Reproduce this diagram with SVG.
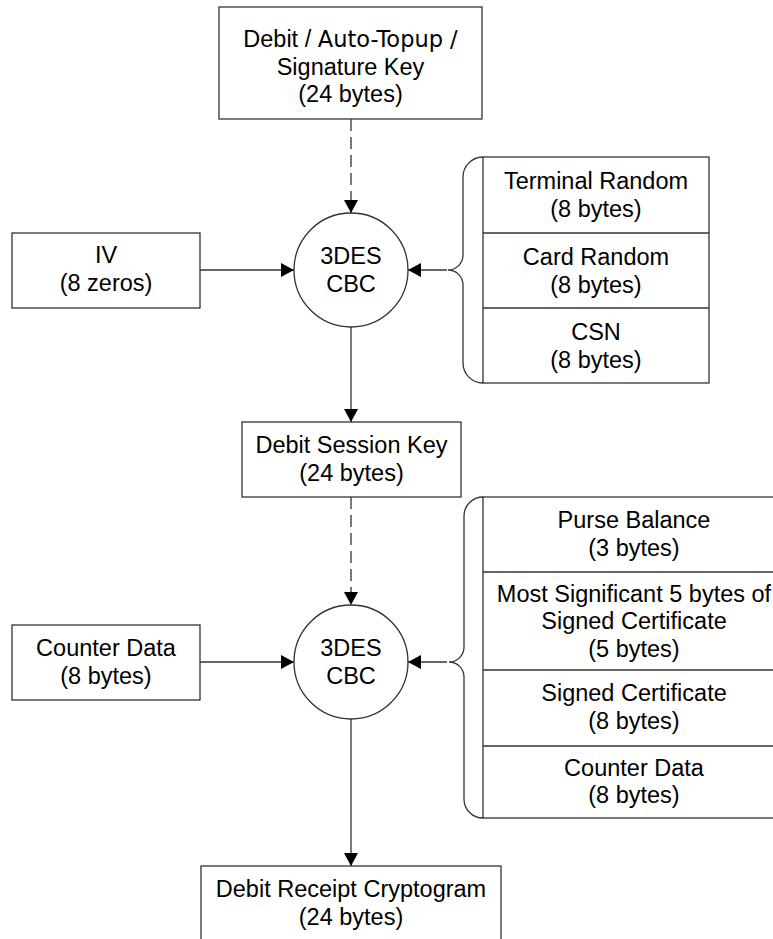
<svg xmlns="http://www.w3.org/2000/svg" width="773" height="939" viewBox="0 0 773 939">
  <defs>
    <marker id="arrow" markerUnits="userSpaceOnUse" markerWidth="14" markerHeight="14" refX="13" refY="7" orient="auto">
      <path d="M0,0 L13,7 L0,14 z" fill="#000"/>
    </marker>
    <style>
      text { font-family: "Liberation Sans", Arial, sans-serif; font-size: 23.5px; fill: #000; text-anchor: middle; }
      .alt { font-family: "DejaVu Sans", Verdana, sans-serif; font-size: 22.5px; }
      .box { fill: #fff; stroke: #333; stroke-width: 1.3; }
      .link { fill: none; stroke: #333; stroke-width: 1.3; }
      .arrow { marker-end: url(#arrow); }
      .dash { stroke-dasharray: 12 6; }
    </style>
  </defs>
  <rect width="773" height="939" fill="#fff"/>

  <!-- connectors -->
  <g id="connectors">
    <line class="link dash arrow" x1="351" y1="119" x2="351" y2="213"/>
    <line class="link arrow" x1="351" y1="327" x2="351" y2="422"/>
    <line class="link dash arrow" x1="351" y1="497" x2="351" y2="605"/>
    <line class="link arrow" x1="351" y1="719" x2="351" y2="866"/>
    <line class="link arrow" x1="200" y1="270" x2="294" y2="270"/>
    <line class="link arrow" x1="200" y1="662" x2="294" y2="662"/>
    <line class="link arrow" x1="447" y1="270" x2="408" y2="270"/>
    <line class="link arrow" x1="447" y1="662" x2="408" y2="662"/>
    <!-- braces gathering the stacked inputs -->
    <path class="link" d="M483,157 A20,20 0 0 0 463,177 L463,255 A15,15 0 0 1 448,270 A15,15 0 0 1 463,285 L463,363 A20,20 0 0 0 483,383"/>
    <path class="link" d="M483,497 A19,19 0 0 0 464,516 L464,647 A15,15 0 0 1 449,662 A15,15 0 0 1 464,677 L464,799 A19,19 0 0 0 483,818"/>
  </g>

  <g id="master-key">
    <rect class="box" x="219" y="7" width="263" height="112"/>
    <text x="350.5" y="47">Debit / <tspan class="alt">Auto-Topup /</tspan></text>
    <text x="350.5" y="74.5">Signature Key</text>
    <text x="350.5" y="102">(24 bytes)</text>
  </g>

  <g id="iv">
    <rect class="box" x="12" y="233" width="188" height="75"/>
    <text x="106" y="263">IV</text>
    <text x="106" y="291">(8 zeros)</text>
  </g>

  <g id="cipher-1">
    <circle class="box" cx="351" cy="270" r="57"/>
    <text x="351" y="264">3DES</text>
    <text x="351" y="292">CBC</text>
  </g>

  <g id="session-data">
    <rect class="box" x="483" y="157" width="226" height="226"/>
    <line class="link" x1="483" y1="233" x2="709" y2="233"/>
    <line class="link" x1="483" y1="308" x2="709" y2="308"/>
    <text x="596" y="189">Terminal Random</text>
    <text x="596" y="216.5">(8 bytes)</text>
    <text x="596" y="265">Card Random</text>
    <text x="596" y="292.5">(8 bytes)</text>
    <text x="596" y="340">CSN</text>
    <text x="596" y="367.5">(8 bytes)</text>
  </g>

  <g id="session-key">
    <rect class="box" x="242" y="422" width="219" height="75"/>
    <text x="351.5" y="453">Debit Session Key</text>
    <text x="351.5" y="480.5">(24 bytes)</text>
  </g>

  <g id="counter-data">
    <rect class="box" x="12" y="625" width="188" height="75"/>
    <text x="106" y="656">Counter Data</text>
    <text x="106" y="683.5">(8 bytes)</text>
  </g>

  <g id="cipher-2">
    <circle class="box" cx="351" cy="662" r="57"/>
    <text x="351" y="656">3DES</text>
    <text x="351" y="684">CBC</text>
  </g>

  <g id="receipt-data">
    <rect class="box" x="483" y="497" width="302" height="321"/>
    <line class="link" x1="483" y1="572" x2="785" y2="572"/>
    <line class="link" x1="483" y1="670" x2="785" y2="670"/>
    <line class="link" x1="483" y1="746" x2="785" y2="746"/>
    <text x="634" y="528">Purse Balance</text>
    <text x="634" y="555.5">(3 bytes)</text>
    <text x="634" y="601.5">Most Significant 5 bytes of</text>
    <text x="634" y="629">Signed Certificate</text>
    <text x="634" y="656.5">(5 bytes)</text>
    <text x="634" y="701">Signed Certificate</text>
    <text x="634" y="728.5">(8 bytes)</text>
    <text x="634" y="775.5">Counter Data</text>
    <text x="634" y="803">(8 bytes)</text>
  </g>

  <g id="receipt-cryptogram">
    <rect class="box" x="201" y="866" width="300" height="80"/>
    <text x="351" y="897">Debit Receipt Cryptogram</text>
    <text x="351" y="925">(24 bytes)</text>
  </g>
</svg>
